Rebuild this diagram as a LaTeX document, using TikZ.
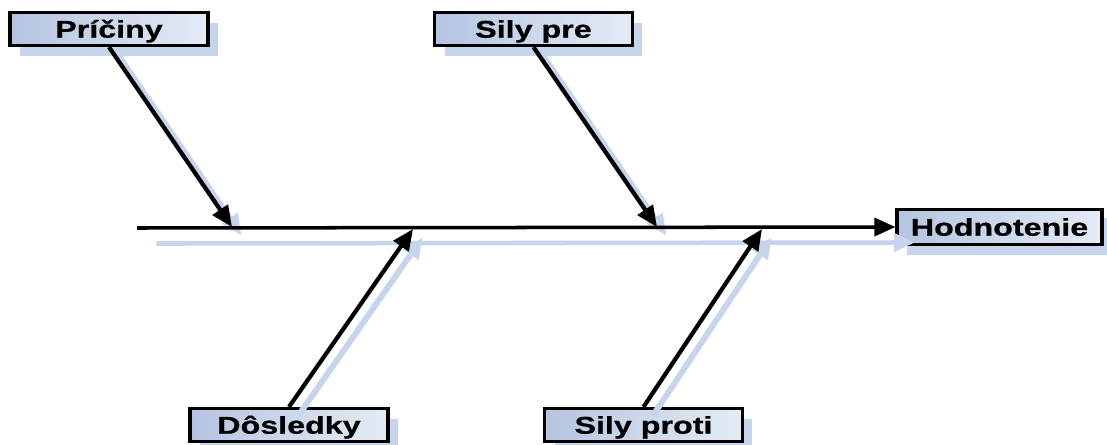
\documentclass[tikz,border=0pt]{standalone}
\usepackage{fontspec}
\setmainfont{Liberation Sans}
\newfontfamily\widesans[FakeStretch=1.33, FakeBold=0.6]{Liberation Sans}
\definecolor{boxleft}{RGB}{180, 196, 224}
\definecolor{boxright}{RGB}{228, 235, 246}
\definecolor{shade}{RGB}{198, 213, 236}
\usepackage{tikz}
\usepackage{xcolor}
\usetikzlibrary{calc,shapes,positioning,shadows,arrows.meta}

\begin{document}
\begin{tikzpicture}[x=0.02cm, y=-0.02cm,
        causebox/.style={draw=black, line width=1.8pt, left color=boxleft, right color=boxright,
            minimum width=3.96cm, minimum height=0.66cm, inner sep=0pt,
            text height=9.9pt, text depth=0pt,
            font=\widesans\fontsize{13.8}{15}\selectfont\bfseries,
            drop shadow={shadow xshift=0.2cm, shadow yshift=-0.2cm, fill=shade, opacity=1}},
        bone/.style={line width=2.4pt, -{Triangle[length=0.42cm, width=0.36cm]}},
        boneshadow/.style={line width=3.4pt, draw=shade, -{Triangle[length=0.42cm, width=0.36cm, fill=shade]},
            transform canvas={xshift=0.19cm, yshift=-0.17cm}}]
                \useasboundingbox (0,0) rectangle (1107,444);
                % boxes
                \node[causebox] (priciny) at (109,29) {Príčiny};
                \node[causebox] (silypre) at (533.5,29) {Sily pre};
                \node[causebox] (dosledky) at (289,425) {Dôsledky};
                \node[causebox] (silyproti) at (643.5,425) {Sily proti};
                \node[causebox, minimum width=4.1cm, minimum height=0.7cm,
                    drop shadow={shadow xshift=0.2cm, shadow yshift=-0.16cm, fill=shade, opacity=1}]
                    (hodnotenie) at (999.5,227) {Hodnotenie};
                % points on the spine
                \coordinate (start) at (137,228);
                \coordinate (p1) at (232,227);
                \coordinate (p2) at (657,227);
                \coordinate (p3) at (413,229);
                \coordinate (p4) at (762,229);
                % shadows of the bones
                \draw[boneshadow, line width=2.6pt, transform canvas={xshift=0.2cm, yshift=-0.14cm}] (start) -- (hodnotenie.west);
                \draw[boneshadow] (priciny.south) -- (p1);
                \draw[boneshadow] (silypre.south) -- (p2);
                \draw[boneshadow] (dosledky.north) -- (p3);
                \draw[boneshadow] (silyproti.north) -- (p4);
                % bones
                \draw[bone, line width=2pt] (start) -- (hodnotenie.west);
                \draw[bone] (priciny.south) -- (p1);
                \draw[bone] (silypre.south) -- (p2);
                \draw[bone] (dosledky.north) -- (p3);
                \draw[bone] (silyproti.north) -- (p4);
            \end{tikzpicture}
\end{document}
